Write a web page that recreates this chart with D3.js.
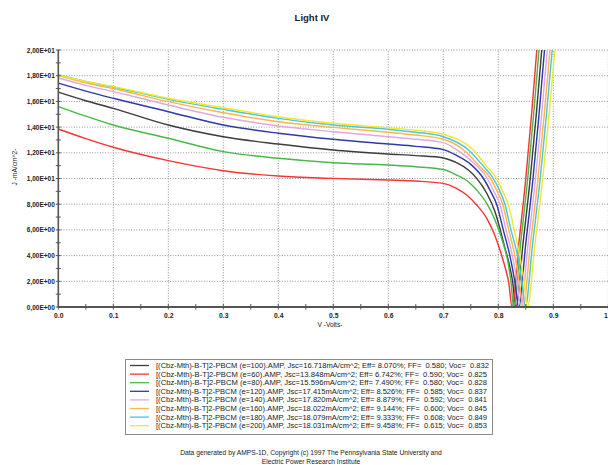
<!DOCTYPE html>
<html><head><meta charset="utf-8">
<script src="https://cdn.jsdelivr.net/npm/d3@7"></script>
<style>
body{margin:0;background:#fff;}
svg{display:block;}
text{font-family:"Liberation Sans",Arial,sans-serif;}
</style>
</head><body><svg id="c" width="608" height="465"></svg>
<script>
// ---- data ----
const xTickValues = [0,0.1,0.2,0.3,0.4,0.5,0.6,0.7,0.8,0.9,1.0];
const xTickLabels = ["0.0","0.1","0.2","0.3","0.4","0.5","0.6","0.7","0.8","0.9","1.0"];
const yTickValues = [0,2,4,6,8,10,12,14,16,18,20];
const yTickLabels = ["0,00E+00","2,00E+00","4,00E+00","6,00E+00","8,00E+00","1,00E+01","1,20E+01","1,40E+01","1,60E+01","1,80E+01","2,00E+01"];

const e100 = [[0,16.72],[0.05,16.05],[0.1,15.46],[0.2,14.16],[0.3,13.25],[0.4,12.68],[0.5,12.22],[0.6,11.91],[0.65,11.78],[0.7,11.6],[0.724,11.23],[0.7455,10.66],[0.7607,10.01],[0.779,8.85],[0.794,7.42],[0.803,6.1],[0.812,4.6],[0.816,4.0],[0.821,3.1],[0.826,2.0],[0.832,0],[0.8451,5],[0.8581,10],[0.8691,15],[0.879,20]];
const e60 = [[0,13.85],[0.05,13.1],[0.1,12.43],[0.2,11.39],[0.3,10.61],[0.4,10.19],[0.5,10.01],[0.6,9.88],[0.65,9.8],[0.7,9.62],[0.724,9.24],[0.7425,8.72],[0.7607,7.94],[0.779,6.9],[0.791,5.86],[0.803,4.44],[0.812,3.14],[0.819,1.9],[0.825,0],[0.8375,5],[0.85,10],[0.8605,15],[0.87,20]];
const e80 = [[0,15.6],[0.05,14.85],[0.1,14.16],[0.2,13.13],[0.3,12.09],[0.4,11.57],[0.5,11.23],[0.6,11.05],[0.65,10.92],[0.7,10.7],[0.724,10.27],[0.7455,9.75],[0.7607,9.1],[0.779,8.07],[0.794,6.77],[0.806,5.35],[0.818,3.4],[0.823,2.0],[0.828,0],[0.8407,5],[0.8535,10],[0.8643,15],[0.874,20]];
const e120 = [[0,17.42],[0.05,16.8],[0.1,16.24],[0.2,15.2],[0.3,14.16],[0.4,13.52],[0.5,13.05],[0.6,12.68],[0.65,12.5],[0.7,12.25],[0.724,11.8],[0.75,11.1],[0.773,10.0],[0.786,9.0],[0.797,8.0],[0.809,6.0],[0.821,4.0],[0.83,2.0],[0.837,0],[0.8501,5],[0.8631,10],[0.8741,15],[0.884,20]];
const e140 = [[0,17.82],[0.05,17.25],[0.1,16.76],[0.2,15.72],[0.3,14.76],[0.4,14.09],[0.5,13.64],[0.6,13.25],[0.65,13.05],[0.7,12.79],[0.725,12.22],[0.755,11.2],[0.78,10.0],[0.792,9.0],[0.803,8.0],[0.814,6.0],[0.8255,4.0],[0.834,2.0],[0.841,0],[0.8544,5],[0.8677,10],[0.8789,15],[0.889,20]];
const e160 = [[0,18.02],[0.05,17.45],[0.1,17.0],[0.2,15.98],[0.3,15.12],[0.4,14.42],[0.5,13.98],[0.6,13.6],[0.65,13.38],[0.7,13.05],[0.737,12.22],[0.765,11.0],[0.786,10.0],[0.798,9.0],[0.808,8.0],[0.819,6.0],[0.83,4.0],[0.838,2.0],[0.845,0],[0.8586,5],[0.8722,10],[0.8836,15],[0.894,20]];
const e180 = [[0,18.08],[0.05,17.55],[0.1,17.12],[0.2,16.16],[0.3,15.38],[0.4,14.68],[0.5,14.16],[0.6,13.83],[0.65,13.6],[0.7,13.25],[0.746,12.22],[0.772,11.0],[0.791,10.0],[0.803,9.0],[0.812,8.0],[0.823,6.0],[0.835,4.0],[0.843,2.0],[0.849,0],[0.8626,5],[0.8762,10],[0.8876,15],[0.898,20]];
const e200 = [[0,18.03],[0.05,17.55],[0.1,17.15],[0.2,16.24],[0.3,15.51],[0.4,14.81],[0.5,14.3],[0.6,13.95],[0.65,13.75],[0.7,13.44],[0.7545,12.22],[0.778,11.0],[0.797,10.0],[0.808,9.0],[0.818,8.0],[0.829,6.0],[0.839,4.0],[0.847,2.0],[0.853,0],[0.8669,5],[0.8808,10],[0.8924,15],[0.903,20]];

const seriesData = [e100, e60, e80, e120, e140, e160, e180, e200];
const seriesColors = ["#3c3c3c","#f83434","#48b848","#2e3aa8","#e0a8e0","#ffb54a","#4ac6de","#f2e82a"];
const legendLabels = [
 "[(Cbz-Mth)-B-T]2-PBCM (e=100).AMP, Jsc=16.718mA/cm^2; Eff= 8.070%; FF=  0.580; Voc=  0.832",
 "[(Cbz-Mth)-B-T]2-PBCM (e=60).AMP, Jsc=13.848mA/cm^2; Eff= 6.742%; FF=  0.590; Voc=  0.825",
 "[(Cbz-Mth)-B-T]2-PBCM (e=80).AMP, Jsc=15.596mA/cm^2; Eff= 7.490%; FF=  0.580; Voc=  0.828",
 "[(Cbz-Mth)-B-T]2-PBCM (e=120).AMP, Jsc=17.415mA/cm^2; Eff= 8.526%; FF=  0.585; Voc=  0.837",
 "[(Cbz-Mth)-B-T]2-PBCM (e=140).AMP, Jsc=17.820mA/cm^2; Eff= 8.879%; FF=  0.592; Voc=  0.841",
 "[(Cbz-Mth)-B-T]2-PBCM (e=160).AMP, Jsc=18.022mA/cm^2; Eff= 9.144%; FF=  0.600; Voc=  0.845",
 "[(Cbz-Mth)-B-T]2-PBCM (e=180).AMP, Jsc=18.079mA/cm^2; Eff= 9.333%; FF=  0.608; Voc=  0.849",
 "[(Cbz-Mth)-B-T]2-PBCM (e=200).AMP, Jsc=18.031mA/cm^2; Eff= 9.458%; FF=  0.615; Voc=  0.853"
];
const titleText = "Light IV";
const xTitle = "V -Volts-";
const yTitle = "J -mA/cm^2-";
const footer = ["Data generated by AMPS-1D, Copyright (c) 1997 The Pennsylvania State University and","Electric Power Research Institute"];

// ---- chart ----
const svg = d3.select("#c");
const x = d3.scaleLinear().domain([0,1]).range([58.3,608.3]);
const y = d3.scaleLinear().domain([0,20]).range([307,50]);

svg.append("text").attr("x",312).attr("y",21).attr("text-anchor","middle")
  .attr("font-size",9.5).attr("font-weight","bold").attr("fill","#222").text(titleText);

// grid
const grid = svg.append("g").attr("stroke","#8a8a8a").attr("stroke-width",0.9).attr("stroke-dasharray","1,1.6");
grid.selectAll(".v").data(xTickValues.slice(1)).join("line")
  .attr("x1",d=>x(d)).attr("x2",d=>x(d)).attr("y1",y(0)).attr("y2",y(20));
grid.selectAll(".h").data(yTickValues.slice(1)).join("line")
  .attr("x1",x(0)).attr("x2",x(1)).attr("y1",d=>y(d)).attr("y2",d=>y(d));

// curves
svg.append("clipPath").attr("id","clip").append("rect")
  .attr("x",x(0)).attr("y",y(20)).attr("width",x(1)-x(0)).attr("height",y(0)-y(20));
const line = d3.line().x(d=>x(d[0])).y(d=>y(d[1])).curve(d3.curveMonotoneX);
svg.append("g").attr("clip-path","url(#clip)").selectAll("path").data(seriesData).join("path")
  .attr("d",line).attr("fill","none").attr("stroke",(d,i)=>seriesColors[i]).attr("stroke-width",1.45);

// axes
const xAxis = d3.axisBottom(x).tickValues(xTickValues).tickFormat((d,i)=>xTickLabels[i]).tickSize(0).tickPadding(6);
const gx = svg.append("g").attr("transform",`translate(0,${y(0)})`).call(xAxis);
gx.select(".domain").remove();
gx.selectAll("text").attr("font-size",6.8).attr("font-weight","bold").attr("fill","#222").attr("font-family","Liberation Sans, Arial, sans-serif");

const yAxis = d3.axisLeft(y).tickValues(yTickValues).tickFormat((d,i)=>yTickLabels[i]).tickSize(0).tickPadding(3.5);
const gy = svg.append("g").attr("transform",`translate(${x(0)},0)`).call(yAxis);
gy.select(".domain").remove();
gy.selectAll("text").attr("font-size",6.5).attr("font-weight","bold").attr("fill","#222").attr("font-family","Liberation Sans, Arial, sans-serif");

// axis lines + ticks
svg.append("line").attr("x1",x(0)).attr("x2",x(1)).attr("y1",y(0)).attr("y2",y(0)).attr("stroke","#555").attr("stroke-width",2);
svg.append("line").attr("x1",x(0)).attr("x2",x(0)).attr("y1",y(0)).attr("y2",y(20)).attr("stroke","#555").attr("stroke-width",1.6);
const xMinor = d3.range(0,1.0001,0.05);
svg.append("g").selectAll("line").data(xMinor).join("line")
  .attr("x1",d=>x(d)).attr("x2",d=>x(d)).attr("y1",y(0)-3).attr("y2",y(0)+2.5).attr("stroke","#555").attr("stroke-width",1);
const yMinor = d3.range(0,20.001,1);
svg.append("g").selectAll("line").data(yMinor).join("line")
  .attr("x1",x(0)-2.5).attr("x2",x(0)+2.5).attr("y1",d=>y(d)).attr("y2",d=>y(d)).attr("stroke","#555").attr("stroke-width",1);

// axis titles
svg.append("text").attr("x",330).attr("y",327).attr("text-anchor","middle").attr("font-size",6.6).attr("fill","#222").text(xTitle);
svg.append("text").attr("transform","translate(17,167) rotate(-90)").attr("text-anchor","middle").attr("font-size",6.6).attr("fill","#222").text(yTitle);

// legend
const lg = svg.append("g");
lg.append("rect").attr("x",125.5).attr("y",359.5).attr("width",367).attr("height",75).attr("fill","#fff").attr("stroke","#8a8a8a").attr("stroke-width",1);
const rowY = i => 365.5 + i*8.6;
lg.selectAll(".ll").data(legendLabels).join("line")
  .attr("x1",130).attr("x2",149).attr("y1",(d,i)=>rowY(i)).attr("y2",(d,i)=>rowY(i))
  .attr("stroke",(d,i)=>seriesColors[i]).attr("stroke-width",1.3);
lg.selectAll(".lt").data(legendLabels).join("text")
  .attr("x",156).attr("y",(d,i)=>rowY(i)+2.4).attr("font-size",6.9).attr("fill","#222")
  .attr("xml:space","preserve").style("white-space","pre")
  .attr("textLength",(d,i)=> i===0?333:331).attr("lengthAdjust","spacingAndGlyphs")
  .text(d=>d);

// footer
svg.append("g").selectAll("text").data(footer).join("text")
  .attr("x",311).attr("y",(d,i)=>455+i*9).attr("text-anchor","middle").attr("font-size",6.7).attr("fill","#222").text(d=>d);
</script></body></html>
